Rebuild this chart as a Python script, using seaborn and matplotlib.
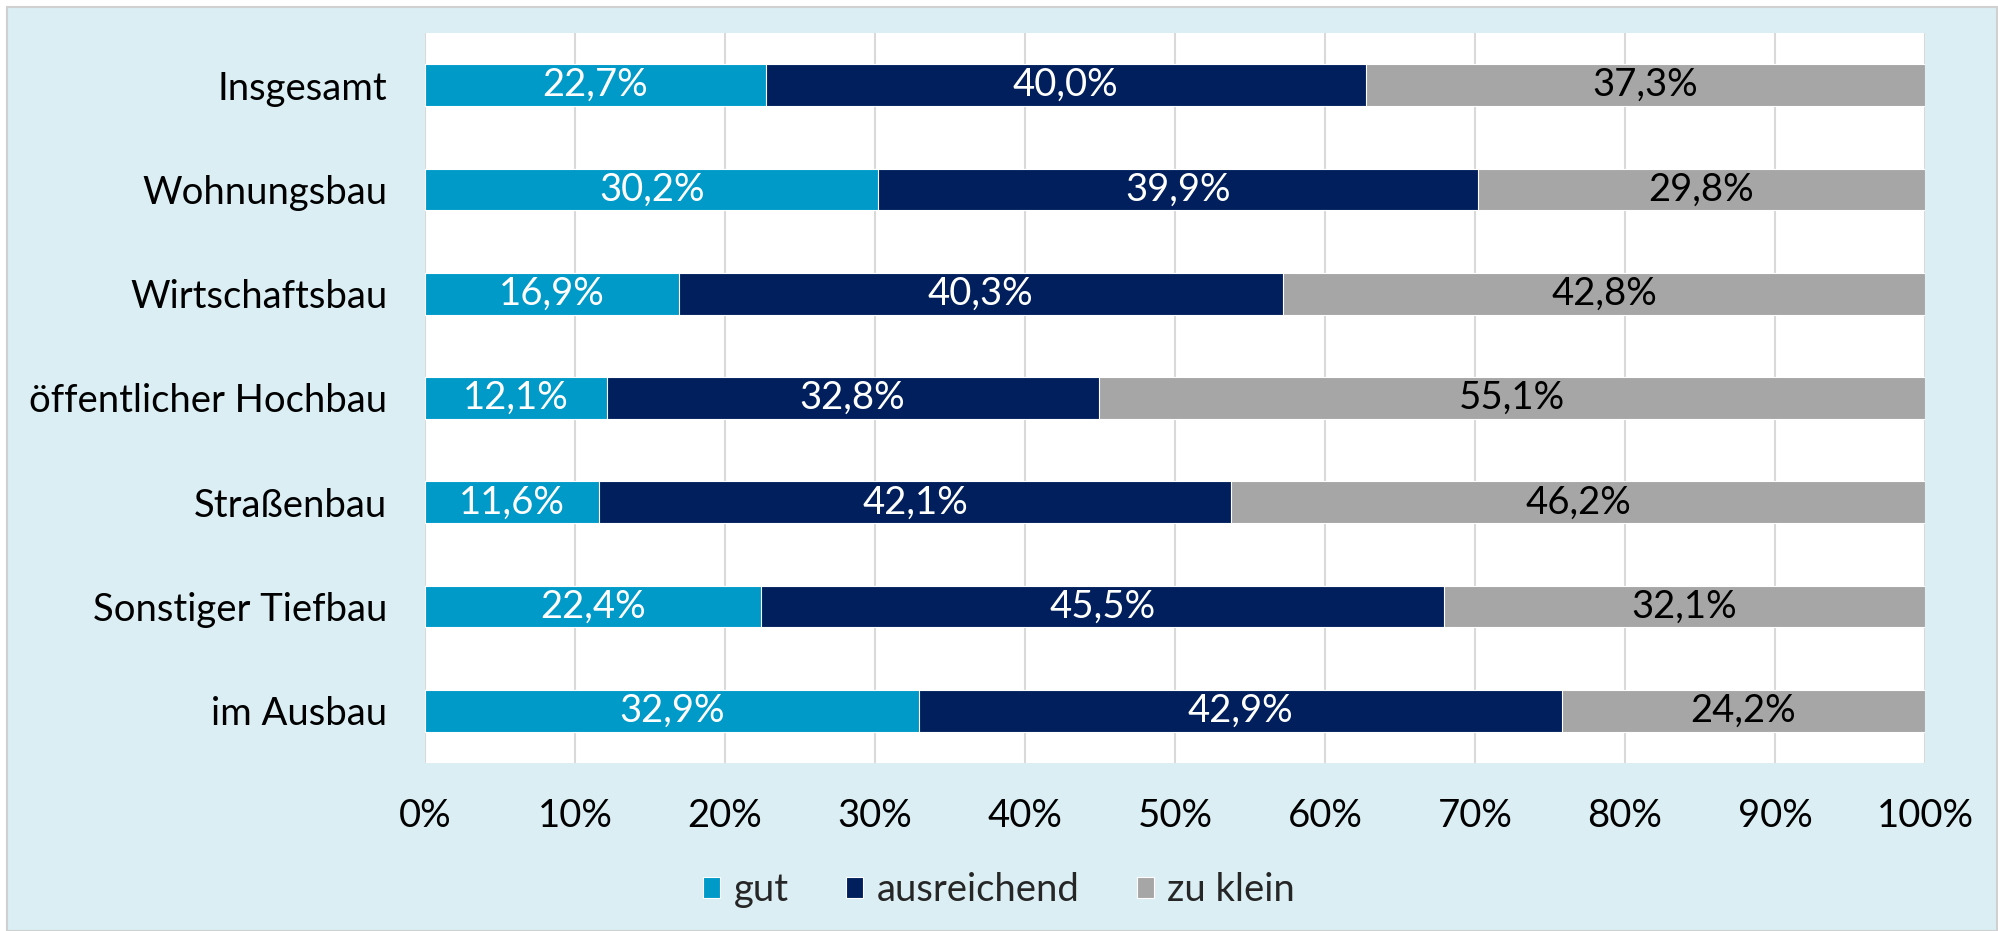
import matplotlib
matplotlib.use("Agg")
import matplotlib.pyplot as plt
import seaborn as sns
import numpy as np
import pandas as pd
from matplotlib.patches import Rectangle

categories = ["Insgesamt", "Wohnungsbau", "Wirtschaftsbau", "öffentlicher Hochbau",
              "Straßenbau", "Sonstiger Tiefbau", "im Ausbau"]
gut = [22.7, 30.2, 16.9, 12.1, 11.6, 22.4, 32.9]
ausreichend = [40.0, 39.9, 40.3, 32.8, 42.1, 45.5, 42.9]
zu_klein = [37.3, 29.8, 42.8, 55.1, 46.2, 32.1, 24.2]
series_names = ["gut", "ausreichend", "zu klein"]
xticks = [0, 10, 20, 30, 40, 50, 60, 70, 80, 90, 100]

colors = ["#009AC9", "#001F5C", "#A6A6A6"]
bg = "#DAEEF3"

sns.set_theme(style="white")
plt.rcParams["font.family"] = ["Lato", "DejaVu Sans"]
FS = 27.5

df = pd.DataFrame({"cat": categories, "gut": gut, "ausreichend": ausreichend, "zu klein": zu_klein})
tot = df[series_names].sum(axis=1)
norm = df[series_names].div(tot, axis=0) * 100
cum = norm.cumsum(axis=1)

fig = plt.figure(figsize=(19.98, 9.31), dpi=100)
fig.patch.set_facecolor("white")
rect = Rectangle((7 / 1998, 0), 1 - 8 / 1998, 1 - 7 / 931, transform=fig.transFigure,
                 facecolor=bg, edgecolor="#D0D0D0", linewidth=1.5, zorder=-10)
fig.add_artist(rect)
ax = fig.add_axes([425 / 1998, 1 - 763 / 931, 1500 / 1998, 730 / 931])
ax.set_zorder(1)
ax.set_facecolor("white")

for xv in xticks:
    ax.axvline(xv, color="#D9D9D9", linewidth=1.5, zorder=0)

for i in reversed(range(3)):
    name = series_names[i]
    sns.barplot(x=cum[name].values, y=df["cat"], orient="h", color=colors[i], width=0.4,
                saturation=1, ax=ax, label=name, zorder=2 + (3 - i),
                edgecolor="white", linewidth=0.8)

for r in range(len(categories)):
    left = 0
    for i, name in enumerate(series_names):
        w = norm[name].iloc[r]
        val = df[name].iloc[r]
        txt = f"{val:.1f}%".replace(".", ",")
        ax.text(left + w / 2, r, txt, ha="center", va="center", fontsize=FS,
                color="white" if i < 2 else "black", zorder=10)
        left += w

ax.set_xlim(0, 100)
ax.set_ylim(len(categories) - 0.5, -0.5)
ax.set_xticks(xticks)
ax.set_xticklabels([f"{v}%" for v in xticks], fontsize=FS)
ax.tick_params(axis="x", length=0, pad=25, colors="black")
ax.tick_params(axis="y", length=0, pad=27, labelsize=FS, colors="black")
ax.set_xlabel("")
ax.set_ylabel("")
for s in ax.spines.values():
    s.set_visible(False)

handles, labels = ax.get_legend_handles_labels()
order = [labels.index(n) for n in series_names]
ax.legend([handles[k] for k in order], [labels[k] for k in order], loc="center",
          bbox_to_anchor=(0.5, 1 - 890 / 931), bbox_transform=fig.transFigure,
          ncol=3, frameon=False, fontsize=FS, handlelength=0.45, handleheight=0.45,
          handletextpad=0.35, columnspacing=1.5)

fig.savefig("out.png", dpi=100, facecolor=fig.get_facecolor())
